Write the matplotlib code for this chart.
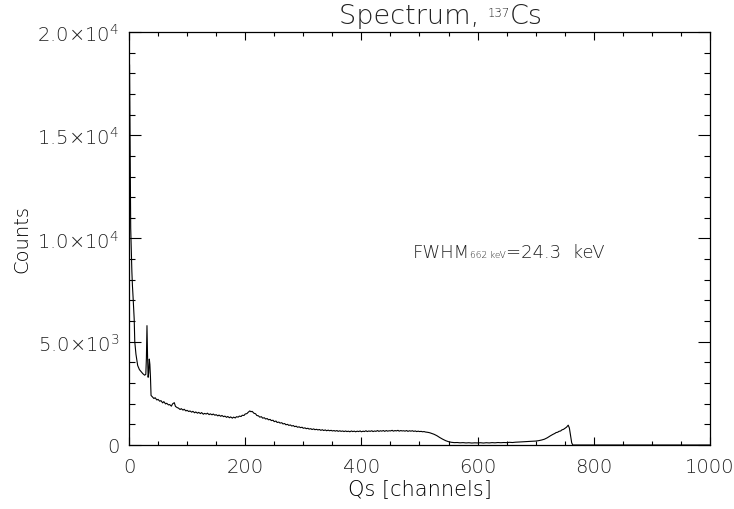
import matplotlib
matplotlib.use('Agg')
import matplotlib.pyplot as plt
from matplotlib.ticker import FixedLocator, MultipleLocator

plt.rcParams['font.family'] = ['DejaVu Sans']
plt.rcParams['font.weight'] = 'light'
plt.rcParams['axes.titleweight'] = 'light'
plt.rcParams['axes.labelweight'] = 'light'
plt.rcParams['mathtext.default'] = 'regular'
plt.rcParams['text.color'] = '#222222'

# spectrum: (channel, counts)
spectrum = [
    (0, 18700), (1, 18400), (2, 14500), (3, 10500), (4, 9500), (5, 8400), (6, 7700),
    (7, 7200), (8, 6600), (9, 6100), (10, 5000), (12, 4400), (15, 3850), (18, 3650),
    (21, 3550), (24, 3450), (27, 3380), (29, 3420), (30, 4200), (31, 5780), (32, 4300),
    (33, 3280), (34, 3500), (35, 4160), (36, 3900), (37, 3300), (38, 2400),
    (40, 2340), (43, 2250), (45, 2290), (48, 2180), (50, 2210), (53, 2120), (55, 2150),
    (58, 2040), (60, 2100), (63, 1990), (65, 2020), (68, 1940), (70, 1960), (73, 1880),
    (75, 1990), (78, 2050), (80, 1870), (83, 1810), (85, 1790), (88, 1720), (90, 1760),
    (93, 1690), (95, 1730), (98, 1650), (100, 1680), (103, 1620), (105, 1650),
    (108, 1590), (110, 1630), (113, 1560), (115, 1600), (118, 1540), (120, 1580),
    (123, 1520), (125, 1570), (128, 1490), (130, 1530), (133, 1500), (135, 1540),
    (138, 1470), (140, 1510), (143, 1460), (145, 1500), (148, 1440), (150, 1470),
    (153, 1410), (155, 1450), (158, 1390), (160, 1430), (163, 1370), (165, 1400),
    (168, 1340), (170, 1380), (173, 1320), (175, 1360), (178, 1300), (180, 1350),
    (183, 1310), (185, 1370), (188, 1350), (190, 1400), (193, 1380), (195, 1440),
    (198, 1430), (200, 1500), (203, 1520), (205, 1580), (208, 1650), (210, 1610),
    (212, 1630), (215, 1540), (218, 1510), (220, 1430), (223, 1410), (225, 1350),
    (228, 1370), (230, 1300), (233, 1320), (235, 1260), (238, 1280), (240, 1220),
    (243, 1240), (245, 1180), (248, 1200), (250, 1130), (253, 1160), (255, 1090),
    (258, 1110), (260, 1060), (263, 1080), (265, 1020), (268, 1040), (270, 980),
    (273, 1000), (275, 950), (278, 970), (280, 920), (283, 940), (285, 890),
    (288, 910), (290, 860), (293, 880), (295, 840), (298, 860), (300, 810),
    (303, 830), (305, 790), (308, 810), (310, 770), (313, 790), (315, 750),
    (318, 780), (320, 740), (323, 760), (325, 730), (328, 750), (330, 710),
    (333, 740), (335, 700), (338, 730), (340, 690), (343, 720), (345, 690),
    (348, 710), (350, 680), (353, 700), (355, 670), (358, 700), (360, 660),
    (363, 690), (365, 660), (368, 680), (370, 650), (373, 680), (375, 650),
    (378, 670), (380, 640), (383, 680), (385, 650), (388, 670), (390, 640),
    (393, 670), (395, 650), (398, 680), (400, 640), (403, 670), (405, 650),
    (408, 690), (410, 650), (413, 680), (415, 660), (418, 690), (420, 650),
    (423, 680), (425, 660), (428, 700), (430, 660), (433, 690), (435, 670),
    (438, 700), (440, 660), (443, 700), (445, 670), (448, 690), (450, 680),
    (453, 710), (455, 670), (458, 700), (460, 680), (463, 710), (465, 670),
    (468, 700), (470, 680), (473, 690), (475, 670), (478, 700), (480, 660),
    (483, 690), (485, 670), (488, 690), (490, 660), (493, 680), (495, 650),
    (498, 670), (500, 650), (503, 660), (505, 640), (508, 650), (510, 630),
    (513, 620), (515, 610), (518, 590), (520, 570), (525, 520), (530, 450),
    (535, 360), (540, 280), (545, 210), (550, 160), (555, 130), (560, 115),
    (565, 120), (570, 105), (575, 115), (580, 100), (585, 110), (590, 95),
    (595, 105), (600, 100), (605, 110), (610, 95), (615, 110), (620, 100),
    (625, 115), (630, 105), (635, 120), (640, 110), (645, 120), (650, 115),
    (655, 130), (660, 120), (665, 135), (670, 140), (675, 150), (680, 160),
    (685, 170), (690, 175), (695, 180), (700, 190), (705, 210), (710, 240),
    (715, 280), (720, 350), (725, 440), (730, 520), (733, 560), (735, 600),
    (738, 620), (740, 660), (743, 680), (745, 730), (748, 760), (750, 800),
    (753, 860), (756, 960), (758, 820), (760, 450), (762, 100), (764, 0),
    (770, 0), (1000, 0),
]
channels = [c for c, n in spectrum]
counts = [n for c, n in spectrum]

y_ticks = [0, 5000, 10000, 15000, 20000]
y_tick_labels = ['0', r'5.0$\times$10$^{3}$', r'1.0$\times$10$^{4}$',
                 r'1.5$\times$10$^{4}$', r'2.0$\times$10$^{4}$']
x_ticks = [0, 200, 400, 600, 800, 1000]

W, H = 734, 510
fig = plt.figure(figsize=(W / 100, H / 100), dpi=100)
ax = fig.add_axes([0.1757, 0.1255, 0.7916, 0.8098])
ax.plot(channels, counts, color='black', linewidth=0.8)

ax.set_xlim(0, 1000)
ax.set_ylim(0, 20000)
ax.xaxis.set_major_locator(FixedLocator(x_ticks))
ax.xaxis.set_minor_locator(MultipleLocator(50))
ax.yaxis.set_major_locator(FixedLocator(y_ticks))
ax.set_yticklabels(y_tick_labels)
ax.yaxis.set_minor_locator(MultipleLocator(1000))

ax.tick_params(axis='both', labelcolor='#222222')
ax.tick_params(axis='x', which='major', direction='in', top=True, length=6, width=0.8,
               pad=9, labelsize=14)
ax.tick_params(axis='x', which='minor', direction='in', top=True, length=3, width=0.8)
ax.tick_params(axis='y', which='major', direction='in', right=True, length=8.5, width=0.8,
               pad=7, labelsize=14)
ax.tick_params(axis='y', which='minor', direction='in', right=True, length=4.2, width=0.8)
for s in ax.spines.values():
    s.set_linewidth(0.9)

ax.set_xlabel('Qs [channels]', fontsize=15, labelpad=1)
ax.set_ylabel('Counts', fontsize=14, labelpad=4)


def put_pieces(x_px, y_px, pieces, center=False):
    # pieces: (text, fontsize, raise_px), laid out left to right on one baseline
    r = fig.canvas.get_renderer()
    objs = []
    x = x_px
    for s, size, dy in pieces:
        t = fig.text(x / W, (H - y_px + dy) / H, s, fontsize=size, va='baseline')
        w = t.get_window_extent(renderer=r).width
        objs.append((t, x))
        x += w
    if center:
        shift = (x - x_px) / 2
        for t, tx in objs:
            t.set_x((tx - shift) / W)


put_pieces(441, 24, [('Spectrum, ', 19.5, 0), ('137', 8.5, 7), ('Cs', 19.5, 0)], center=True)
put_pieces(413, 258, [('FWHM', 13, 0), ('662 keV', 6.5, 0), ('=24.3  keV', 13, 0)])

fig.savefig('out.png', dpi=100)
